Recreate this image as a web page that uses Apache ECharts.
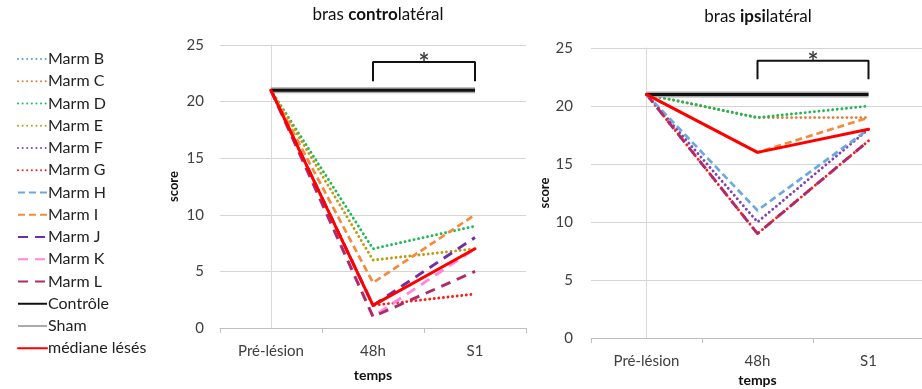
<!DOCTYPE html>
<html><head><meta charset="utf-8">
<script src="https://cdn.jsdelivr.net/npm/echarts@6/dist/echarts.min.js"></script>
<style>html,body{margin:0;padding:0;background:#fff}#c{width:922px;height:389px}</style>
</head><body><div id="c"></div>
<script>
const categories = ['Pré-lésion', '48h', 'S1'];
const yTicks = [0, 5, 10, 15, 20, 25];
const seriesNames = ['Marm B','Marm C','Marm D','Marm E','Marm F','Marm G','Marm H','Marm I','Marm J','Marm K','Marm L','Contrôle','Sham','médiane lésés'];
// contralateral arm values
const controB = null;
const controC = null;
const controD = [21, 7, 9];
const controE = [21, 6, 7];
const controF = null;
const controG = [21, 2, 3];
const controH = null;
const controI = [21, 4, 10];
const controJ = [21, 2, 8];
const controK = [21, 1, 7];
const controL = [21, 1, 5];
const controControle = [21, 21, 21];
const controSham = [21, 21, 21];
const controMediane = [21, 2, 7];
// ipsilateral arm values
const ipsiB = null;
const ipsiC = [21, 19, 19];
const ipsiD = [21, 19, 20];
const ipsiE = null;
const ipsiF = [21, 10, 18];
const ipsiG = [21, 9, 17];
const ipsiH = [21, 11, 18];
const ipsiI = [21, 16, 19];
const ipsiJ = null;
const ipsiK = null;
const ipsiL = [21, 9, 17];
const ipsiControle = [21, 21, 21];
const ipsiSham = [21, 21, 21];
const ipsiMediane = [21, 16, 18];
// significance bracket (from 48h to S1)
const bracketFrom = '48h', bracketTo = 'S1';
const controBracket = {low: 21.8, high: 23.5, star: 24.1};
const ipsiBracket = {low: 22.3, high: 23.9, star: 24.4};

const contro = [controB,controC,controD,controE,controF,controG,controH,controI,controJ,controK,controL,controControle,controSham,controMediane];
const ipsi = [ipsiB,ipsiC,ipsiD,ipsiE,ipsiF,ipsiG,ipsiH,ipsiI,ipsiJ,ipsiK,ipsiL,ipsiControle,ipsiSham,ipsiMediane];

const FONT = 'Lato, "Open Sans", sans-serif';
const DOT = [0.01, 4.6], DASH = [7, 4], LDASH = [10, 7];
const styles = {
  'Marm B': {color:'#5B9BD5', type:DOT, width:2.9, cap:'round'},
  'Marm C': {color:'#E07B39', type:DOT, width:2.9, cap:'round'},
  'Marm D': {color:'#1DB954', type:DOT, width:2.9, cap:'round'},
  'Marm E': {color:'#C09A10', type:DOT, width:2.9, cap:'round'},
  'Marm F': {color:'#8040B8', type:DOT, width:2.9, cap:'round'},
  'Marm G': {color:'#FF1A1A', type:DOT, width:2.9, cap:'round'},
  'Marm H': {color:'#6AA8E0', type:DASH, width:2.7, cap:'butt'},
  'Marm I': {color:'#F58A3C', type:DASH, width:2.7, cap:'butt'},
  'Marm J': {color:'#7030A0', type:LDASH, width:2.9, cap:'butt'},
  'Marm K': {color:'#FF85E0', type:LDASH, width:2.9, cap:'butt'},
  'Marm L': {color:'#B02A6A', type:LDASH, width:2.9, cap:'butt'},
  'Contrôle': {color:'#111111', type:'solid', width:3, cap:'butt'},
  'Sham': {color:'#AAAAAA', type:'solid', width:6, cap:'butt'},
  'médiane lésés': {color:'#FF0000', type:'solid', width:3, cap:'round'}
};
// draw order: Sham under Contrôle, median last
const drawOrder = [0,1,2,3,4,5,6,7,8,9,10,12,11,13];

const grids = [
  {left:220, top:45, width:306, height:283, outerBoundsMode:'none', containLabel:false},
  {left:591, top:48, width:333, height:290, outerBoundsMode:'none', containLabel:false}
];

function catAxis(gi, labelMargin, nameGap) {
  return {
    type:'category', gridIndex:gi, data:categories, boundaryGap:true,
    axisLine:{show:true, lineStyle:{color:'#BFBFBF', width:1}},
    axisTick:{show:true, alignWithLabel:false, length:5, lineStyle:{color:'#BFBFBF'}},
    axisLabel:{color:'#404040', fontSize:15, fontFamily:FONT, margin:labelMargin},
    name:'temps', nameLocation:'middle', nameGap:nameGap,
    nameTextStyle:{color:'#111', fontSize:14, fontWeight:'bold', fontFamily:FONT}
  };
}
function valAxis(gi, labelMargin, nameGap) {
  return {
    type:'value', gridIndex:gi, min:0, max:25, interval:5,
    axisLine:{show:true, lineStyle:{color:'#D9D9D9'}},
    axisTick:{show:false},
    splitLine:{show:true, lineStyle:{color:'#D4D4D4', width:1.2}},
    axisLabel:{color:'#404040', fontSize:15, fontFamily:FONT, margin:labelMargin},
    name:'score', nameLocation:'middle', nameGap:nameGap, nameRotate:90,
    nameTextStyle:{color:'#111', fontSize:13, fontWeight:'bold', fontFamily:FONT}
  };
}
function hiddenX(gi) {
  return {type:'value', gridIndex:gi, min:-0.5, max:2.5, show:false};
}

const series = [];
[contro, ipsi].forEach((set, gi) => {
  drawOrder.forEach(i => {
    const name = seriesNames[i];
    const st = styles[name];
    series.push({
      type:'line', name:name, xAxisIndex:gi, yAxisIndex:gi,
      data: set[i] ? set[i] : [null, null, null],
      symbol:'none', smooth:false, silent:true,
      color: st.color,
      lineStyle:{color:st.color, type:st.type, width:st.width, cap:st.cap, join:'round'}
    });
  });
  const b = gi === 0 ? controBracket : ipsiBracket;
  const x1 = categories.indexOf(bracketFrom), x2 = categories.indexOf(bracketTo);
  series.push({
    type:'line', name:'bracket', xAxisIndex:gi+2, yAxisIndex:gi, symbol:'none', silent:true,
    data:[[x1,b.low],[x1,b.high],[x2,b.high],[x2,b.low]],
    lineStyle:{color:'#111', width:2}
  });
  series.push({
    type:'scatter', name:'star', xAxisIndex:gi+2, yAxisIndex:gi, symbolSize:0, silent:true,
    data:[[(x1+x2)/2, b.star]],
    label:{show:true, formatter:'*', position:'inside', offset:[0,8], color:'#111', fontSize:26, fontWeight:'bold', fontFamily:FONT}
  });
});

const chart = echarts.init(document.getElementById('c'), null, {renderer:'canvas'});
chart.setOption({
  animation:false,
  backgroundColor:'#fff',
  grid:grids,
  xAxis:[catAxis(0,16,40), catAxis(1,16,28), hiddenX(0), hiddenX(1)],
  yAxis:[valAxis(0,16,40), valAxis(1,18,39)],
  legend:{
    data:seriesNames, orient:'vertical', left:17, top:51, padding:0,
    itemWidth:29, itemHeight:12, itemGap:6.25,
    itemStyle:{opacity:0},
    textStyle:{color:'#222', fontSize:16, lineHeight:15, fontFamily:FONT, padding:[0,0,0,-4]},
    selectedMode:false
  },
  graphic:[
    {type:'text', x:378, y:6, style:{
      text:'{a|bras }{b|contro}{a|latéral}', textAlign:'center',
      rich:{a:{fontSize:17, fontFamily:FONT, fill:'#111'}, b:{fontSize:17, fontWeight:'bold', fontFamily:FONT, fill:'#111'}}
    }},
    {type:'text', x:758, y:8, style:{
      text:'{a|bras }{b|ipsi}{a|latéral}', textAlign:'center',
      rich:{a:{fontSize:17, fontFamily:FONT, fill:'#111'}, b:{fontSize:17, fontWeight:'bold', fontFamily:FONT, fill:'#111'}}
    }}
  ],
  series:series
});
</script>
</body></html>
